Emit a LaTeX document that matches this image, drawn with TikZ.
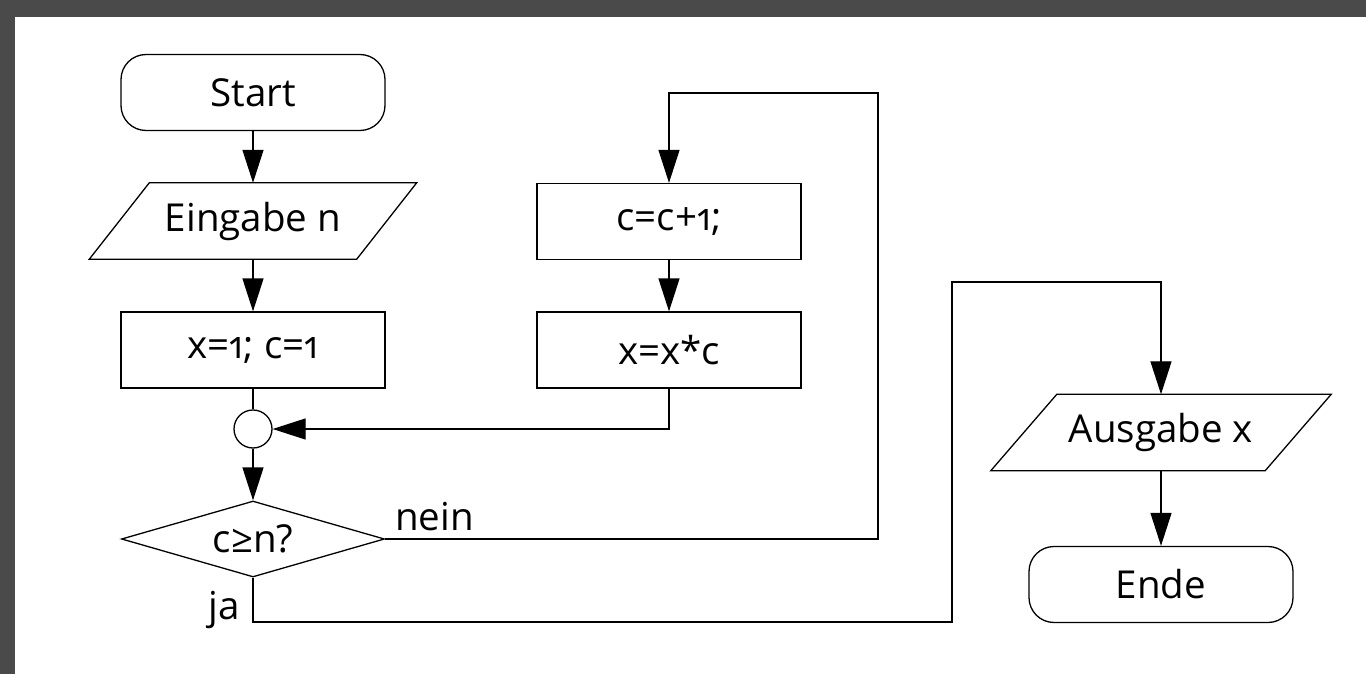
\documentclass[tikz,border=0pt]{standalone}
\usepackage{fontspec}
\setmainfont{Open Sans}[Numbers=OldStyle]
\usetikzlibrary{shapes.geometric,arrows.meta,calc}

\begin{document}
\begin{tikzpicture}[x=1pt,y=-1pt,
  every node/.style={font=\fontsize{38.5}{44}\selectfont},
  lin/.style={line width=1.3pt, draw=black},
  arr/.style={lin, -{Triangle[length=33pt,width=21pt]}},
  box/.style={lin, rectangle, minimum width=264pt, minimum height=76pt, inner sep=0pt},
  term/.style={box, rounded corners=25pt},
  io/.style={rectangle, minimum height=76pt, inner sep=0pt},
  decision/.style={lin, diamond, aspect=3.46, minimum width=263pt, minimum height=76pt, inner sep=0pt},
  joint/.style={lin, circle, minimum size=38pt, inner sep=0pt},
  lbl/.style={inner sep=0pt},
]
% frame and canvas
\useasboundingbox (0,0) rectangle (1366,674);
\fill[black!71] (0,0) rectangle (1366,674);
\fill[white] (15,17) rectangle (1366,674);

% left column
\node[term] (start) at (253,92.5) {Start};
\node[io, minimum width=327pt] (in) at (253,221) {Eingabe n};
\draw[lin] ($(in.north west)+(60,0)$) -- (in.north east)
  -- ($(in.south east)+(-60,0)$) -- (in.south west) -- cycle;
\node[box] (init) at (253,350) {x=1; c=1};
\node[joint] (join) at (253,429) {};
\node[decision] (dec) at (253,539) {c≥n?};

% loop body
\node[box] (inc) at (669,221.5) {c=c+1;};
\node[box] (mul) at (669,350) {x=x*c};

% output column
\node[io, minimum width=340pt] (out) at (1161,432.5) {Ausgabe x};
\draw[lin] ($(out.north west)+(66,0)$) -- (out.north east)
  -- ($(out.south east)+(-66,0)$) -- (out.south west) -- cycle;
\node[term] (end) at (1161,584.5) {Ende};

% branch labels
\node[lbl, anchor=base west] (nein) at ($(dec.east)+(10,-9)$) {nein};
\node[lbl, anchor=base east] (ja) at ($(dec.south)+(-13,42)$) {ja};

% route corners
\coordinate (loopTop) at (878,93);
\coordinate (jaLow) at (952,622);
\coordinate (jaHigh) at (952,282);

% connectors
\draw[arr] (start.south) -- (in.north);
\draw[arr] (in.south) -- (init.north);
\draw[lin] (init.south) -- (join.north);
\draw[arr] (join.south) -- (dec.north);
\draw[arr] (dec.east) -| (loopTop) -| (inc.north);
\draw[arr] (inc.south) -- (mul.north);
\draw[arr] (mul.south) |- (join.east);
\draw[arr] (dec.south) |- (jaLow) -- (jaHigh) -| (out.north);
\draw[arr] (out.south) -- (end.north);
\end{tikzpicture}
\end{document}
